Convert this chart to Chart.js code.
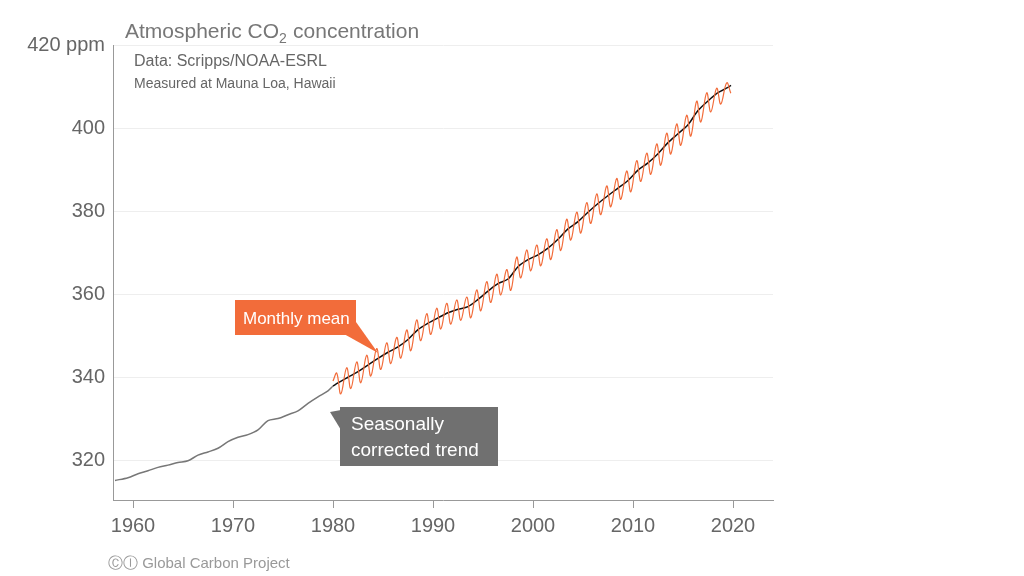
<!DOCTYPE html>
<html><head><meta charset="utf-8">
<script src="https://cdn.jsdelivr.net/npm/chart.js@4/dist/chart.umd.min.js"></script>
<style>html,body{margin:0;padding:0;background:#fff}#c{width:1024px;height:576px}</style>
</head><body><canvas id="c" width="1024" height="576"></canvas>
<script>
const trendYears = [1958.2,1959.5,1960.5,1961.5,1962.5,1963.5,1964.5,1965.5,1966.5,1967.5,1968.5,1969.5,1970.5,1971.5,1972.5,1973.5,1974.5,1975.5,1976.5,1977.5,1978.5,1979.5,1980.0];
const trendEarly = [315.3,315.97,316.91,317.64,318.45,318.99,319.62,320.04,321.38,322.16,323.04,324.62,325.68,326.32,327.45,329.68,330.18,331.11,332.04,333.83,335.4,336.84,338.0];
const trendLateYears = [1980.0,1980.5,1981.5,1982.5,1983.5,1984.5,1985.5,1986.5,1987.5,1988.5,1989.5,1990.5,1991.5,1992.5,1993.5,1994.5,1995.5,1996.5,1997.5,1998.5,1999.5,2000.5,2001.5,2002.5,2003.5,2004.5,2005.5,2006.5,2007.5,2008.5,2009.5,2010.5,2011.5,2012.5,2013.5,2014.5,2015.5,2016.5,2017.5,2018.5,2019.5,2019.8];
const trendLate = [338.0,338.75,340.11,341.45,343.05,344.65,346.12,347.42,349.19,351.57,353.12,354.39,355.61,356.45,357.1,358.83,360.82,362.61,363.73,366.7,368.38,369.55,371.14,373.28,375.8,377.52,379.8,381.9,383.79,385.6,387.43,389.9,391.65,393.85,396.52,398.65,400.83,404.24,406.55,408.52,409.8,410.3];
const monthlyYears = [1980,1981,1982,1983,1984,1985,1986,1987,1988,1989,1990,1991,1992,1993,1994,1995,1996,1997,1998,1999,2000,2001,2002,2003,2004,2005,2006,2007,2008,2009,2010,2011,2012,2013,2014,2015,2016,2017,2018,2019];
const monthlyPeaks = [341.1,342.4,343.8,345.4,347.0,348.4,349.7,351.5,353.9,355.4,356.7,357.9,358.7,359.4,361.1,363.1,364.9,366.0,369.0,370.7,371.9,373.4,375.6,378.1,379.8,382.1,384.2,386.1,387.9,389.7,392.2,394.0,396.2,398.8,401.0,403.1,406.5,408.5,409.6,410.9];
const monthlyTroughs = [336.1,337.4,338.8,340.4,342.0,343.4,344.7,346.5,348.9,350.4,351.7,352.9,353.8,354.4,356.1,358.1,359.9,361.0,364.0,365.7,366.9,368.4,370.6,373.1,374.8,377.1,379.2,381.1,382.9,384.7,387.2,388.9,391.1,393.8,395.9,398.1,401.5,403.9,405.8,408.4];
const yTicks = [320,340,360,380,400,420];
const xTicks = [1960,1970,1980,1990,2000,2010,2020];

const monthly = [{x:1980.0,y:339.2}];
monthlyYears.forEach((yr,i)=>{monthly.push({x:yr+0.37,y:monthlyPeaks[i]});monthly.push({x:yr+0.78,y:monthlyTroughs[i]});});
const early = trendYears.map((x,i)=>({x,y:trendEarly[i]}));
const late = trendLateYears.map((x,i)=>({x,y:trendLate[i]}));
const F = "Helvetica, 'Liberation Sans', Arial, sans-serif";
const gray = '#666';

const deco = {id:'deco', afterDraw(ch){
  const c=ch.ctx; c.save();
  c.fillStyle='#777'; c.font='21px '+F; c.textBaseline='alphabetic';
  c.fillText('Atmospheric CO',125,38);
  let w=c.measureText('Atmospheric CO').width;
  c.font='14px '+F; c.fillText('2',125+w,43);
  c.font='21px '+F; c.fillText('concentration',125+w+14,38);
  c.fillStyle='#666'; c.font='16px '+F; c.fillText('Data: Scripps/NOAA-ESRL',134,66);
  c.font='14px '+F; c.fillText('Measured at Mauna Loa, Hawaii',134,88);
  c.fillStyle='#f26c3a';
  c.fillRect(235,300,121,35);
  c.beginPath(); c.moveTo(344,334); c.lineTo(378,353); c.lineTo(356,322); c.fill();
  c.fillStyle='#fff'; c.font='17px '+F; c.fillText('Monthly mean',243,324);
  c.fillStyle='#707070';
  c.fillRect(340,407,158,59);
  c.beginPath(); c.moveTo(341,410); c.lineTo(330,412); c.lineTo(341,430); c.fill();
  c.fillStyle='#fff'; c.font='19px '+F; c.fillText('Seasonally',351,430); c.fillText('corrected trend',351,456);
  c.fillStyle='#999'; c.font='15px '+F; c.fillText('\u24b8\u24be Global Carbon Project',108,568);
  c.restore();
}};

new Chart(document.getElementById('c'),{
  type:'line',
  data:{datasets:[
    {data:monthly,borderColor:'#f26c3a',borderWidth:1.2,pointRadius:0,tension:0.4},
    {data:early,borderColor:'#777',borderWidth:1.5,pointRadius:0,tension:0.3},
    {data:late,borderColor:'#111',borderWidth:1.5,pointRadius:0,tension:0.3}
  ]},
  options:{responsive:false,animation:false,
    layout:{padding:{left:0,right:251,top:45,bottom:36}},
    plugins:{legend:{display:false},tooltip:{enabled:false}},
    scales:{
      x:{type:'linear',min:1958,max:2024,
        afterBuildTicks:s=>{s.ticks=xTicks.map(v=>({value:v}));},
        afterFit:s=>{s.height=40;},
        grid:{display:true,drawOnChartArea:false,drawTicks:true,tickLength:8,color:'#999'},
        border:{color:'#999'},
        ticks:{color:gray,font:{size:20,family:F},padding:6,callback:v=>String(v)}},
      y:{min:310.6,max:420,
        afterBuildTicks:s=>{s.ticks=yTicks.map(v=>({value:v}));},
        afterFit:s=>{s.width=113;},
        grid:{color:'#eee',drawTicks:false},
        border:{color:'#999'},
        ticks:{color:gray,font:{size:20,family:F},padding:8,callback:v=>v===420?'420 ppm':String(v)}}
    }},
  plugins:[deco]
});
</script></body></html>
